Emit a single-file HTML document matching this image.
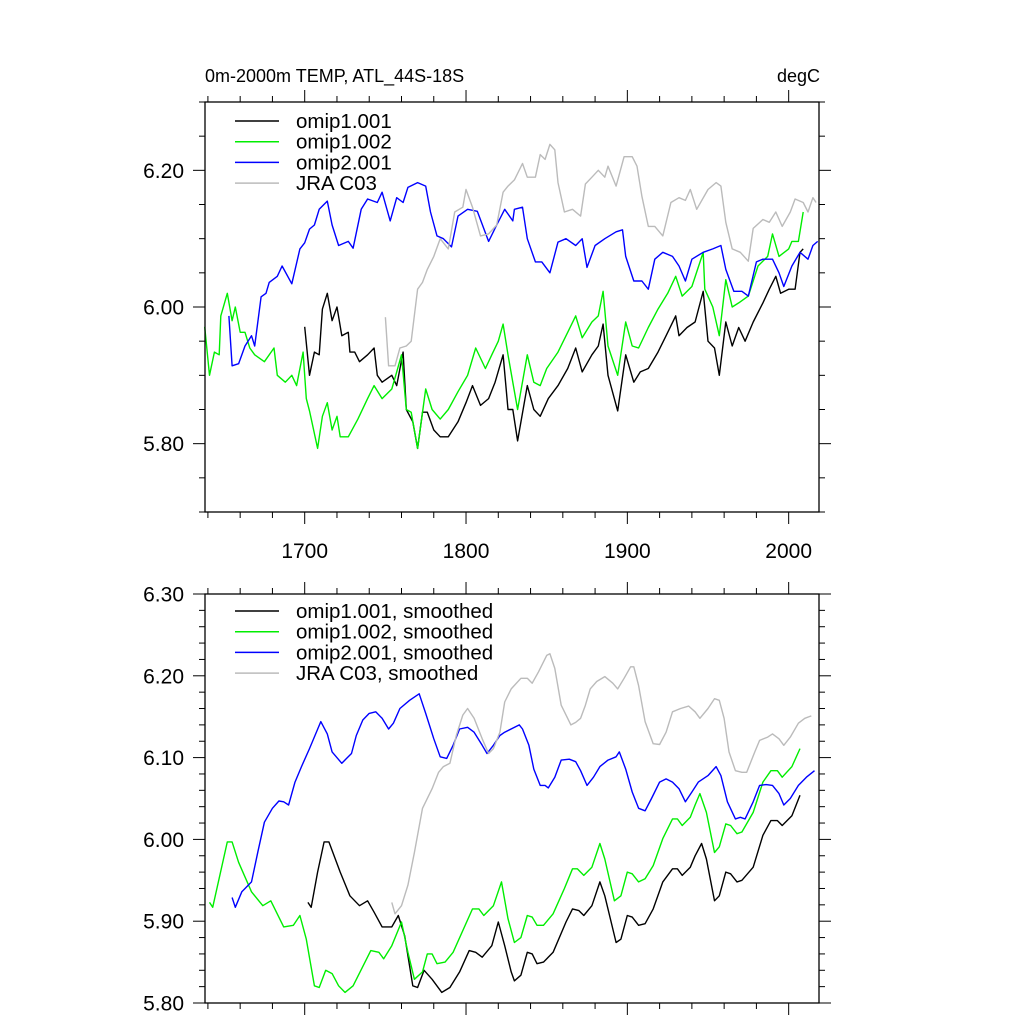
<!DOCTYPE html>
<html><head><meta charset="utf-8"><style>
html,body{margin:0;padding:0;background:#fff;}
svg text{font-family:"Liberation Sans",Arial,sans-serif;fill:#000;}
</style></head><body>
<svg id="chart" width="1024" height="1024" viewBox="0 0 1024 1024" xmlns="http://www.w3.org/2000/svg">
<rect width="1024" height="1024" fill="#fff"/>
<text x="205" y="82" font-size="18">0m-2000m TEMP, ATL_44S-18S</text>
<text x="820" y="82" font-size="18" text-anchor="end">degC</text>
<g id="top"></g>
<g id="bot"></g>
</svg>
<script>
// ---- top panel data (raw) ----
const blackYears=[1700,1703,1706,1709,1711,1714,1717,1720,1723,1727,1728,1731,1734,1739,1743,1745,1748,1754,1757,1761,1763,1767,1770,1773,1776,1780,1784,1789,1795,1800,1804,1809,1814,1818,1823,1826,1829,1832,1838,1842,1846,1851,1857,1863,1868,1872,1878,1882,1885,1888,1894,1899,1904,1908,1913,1919,1924,1930,1932,1937,1942,1947,1950,1954,1957,1961,1965,1969,1973,1978,1984,1988,1992,1995,2000,2004,2007,2009];
const blackVals=[5.971,5.90,5.934,5.93,5.997,6.02,5.98,6.0,5.958,5.963,5.934,5.934,5.92,5.93,5.94,5.90,5.89,5.90,5.885,5.934,5.85,5.832,5.793,5.846,5.846,5.82,5.81,5.81,5.832,5.86,5.885,5.856,5.866,5.89,5.93,5.85,5.85,5.804,5.885,5.85,5.84,5.866,5.885,5.91,5.94,5.905,5.93,5.943,5.975,5.90,5.848,5.93,5.89,5.905,5.91,5.934,5.958,5.987,5.958,5.97,5.978,6.023,5.95,5.94,5.90,5.978,5.943,5.97,5.95,5.978,6.006,6.026,6.045,6.02,6.026,6.026,6.08,6.085];
const greenYears=[1638,1641,1644,1647,1648,1652,1655,1657,1660,1663,1666,1669,1675,1681,1683,1688,1692,1695,1699,1701,1703,1708,1711,1714,1717,1720,1722,1727,1733,1739,1743,1748,1754,1757,1760,1763,1766,1770,1775,1779,1784,1789,1795,1801,1806,1812,1816,1820,1823,1826,1829,1832,1838,1842,1846,1850,1857,1863,1868,1872,1878,1882,1885,1888,1894,1899,1903,1907,1913,1919,1925,1930,1934,1940,1947,1948,1953,1957,1961,1965,1969,1975,1981,1987,1990,1994,2000,2002,2006,2009];
const greenVals=[5.971,5.90,5.934,5.93,5.987,6.02,5.98,6.0,5.963,5.963,5.94,5.93,5.92,5.94,5.90,5.89,5.90,5.885,5.934,5.866,5.848,5.793,5.84,5.86,5.82,5.84,5.81,5.81,5.836,5.866,5.885,5.866,5.88,5.905,5.93,5.85,5.846,5.793,5.88,5.85,5.836,5.85,5.876,5.90,5.94,5.91,5.93,5.95,5.975,5.93,5.89,5.85,5.93,5.89,5.885,5.91,5.934,5.963,5.987,5.955,5.978,5.987,6.023,5.943,5.90,5.978,5.943,5.94,5.97,5.997,6.02,6.045,6.016,6.03,6.08,6.026,6.0,5.958,6.04,6.0,6.006,6.016,6.06,6.074,6.107,6.074,6.085,6.096,6.096,6.139];
const blueYears=[1653,1655,1659,1663,1667,1669,1673,1676,1678,1683,1686,1692,1697,1700,1703,1706,1709,1714,1717,1721,1727,1730,1735,1739,1745,1748,1753,1757,1761,1764,1770,1775,1778,1782,1786,1791,1795,1801,1807,1814,1819,1824,1829,1830,1835,1838,1843,1847,1852,1857,1862,1868,1872,1875,1880,1886,1893,1897,1899,1904,1909,1913,1917,1922,1928,1932,1936,1940,1947,1953,1958,1961,1966,1971,1975,1980,1984,1990,1994,1997,2002,2007,2012,2015,2018];
const blueVals=[5.987,5.914,5.917,5.943,5.958,5.943,6.015,6.02,6.036,6.045,6.06,6.034,6.085,6.094,6.114,6.12,6.143,6.155,6.12,6.09,6.096,6.086,6.143,6.158,6.153,6.168,6.126,6.16,6.153,6.175,6.182,6.177,6.139,6.104,6.10,6.088,6.133,6.143,6.14,6.096,6.12,6.143,6.126,6.143,6.146,6.10,6.066,6.066,6.05,6.095,6.10,6.09,6.10,6.058,6.09,6.10,6.11,6.113,6.074,6.038,6.038,6.026,6.07,6.08,6.074,6.06,6.038,6.07,6.08,6.085,6.09,6.055,6.023,6.023,6.016,6.066,6.07,6.07,6.05,6.03,6.06,6.08,6.07,6.09,6.096];
const grayYears=[1750,1752,1756,1759,1763,1766,1770,1773,1776,1780,1784,1789,1793,1798,1800,1804,1809,1814,1819,1823,1826,1830,1835,1838,1843,1846,1849,1852,1855,1857,1861,1866,1871,1874,1878,1882,1886,1888,1893,1898,1903,1906,1909,1913,1917,1922,1927,1932,1936,1939,1943,1950,1955,1958,1961,1965,1970,1975,1978,1984,1988,1992,1996,2001,2004,2009,2012,2015,2017];
const grayVals=[5.985,5.914,5.914,5.94,5.943,5.95,6.026,6.036,6.055,6.074,6.10,6.085,6.139,6.146,6.172,6.146,6.104,6.107,6.12,6.168,6.177,6.186,6.21,6.19,6.19,6.223,6.216,6.238,6.23,6.182,6.139,6.143,6.133,6.18,6.19,6.20,6.19,6.206,6.177,6.22,6.22,6.206,6.162,6.118,6.118,6.104,6.153,6.16,6.156,6.172,6.143,6.172,6.182,6.177,6.124,6.085,6.08,6.067,6.115,6.128,6.124,6.139,6.118,6.139,6.158,6.153,6.139,6.16,6.153];
// ---- bottom panel data (smoothed) ----
const sBlackYears=[1702,1704,1708,1712,1715,1722,1728,1734,1739,1743,1748,1754,1758,1762,1767,1770,1774,1779,1785,1790,1796,1802,1806,1810,1816,1820,1824,1828,1830,1834,1838,1841,1844,1848,1854,1862,1866,1870,1873,1878,1883,1886,1893,1896,1900,1903,1907,1911,1916,1922,1928,1931,1934,1939,1942,1946,1949,1954,1957,1961,1964,1968,1971,1978,1984,1989,1993,1996,2002,2007];
const sBlackVals=[5.923,5.917,5.960,5.997,5.997,5.96,5.931,5.919,5.925,5.911,5.893,5.893,5.907,5.882,5.821,5.819,5.84,5.829,5.813,5.819,5.838,5.864,5.862,5.856,5.87,5.899,5.87,5.838,5.827,5.834,5.862,5.86,5.848,5.85,5.862,5.899,5.915,5.913,5.907,5.919,5.948,5.931,5.874,5.878,5.907,5.905,5.895,5.897,5.915,5.948,5.964,5.964,5.956,5.966,5.98,5.995,5.976,5.925,5.931,5.96,5.958,5.948,5.95,5.966,6.005,6.023,6.023,6.017,6.029,6.054];
const sGreenYears=[1641,1643,1652,1655,1659,1667,1674,1679,1687,1693,1697,1701,1706,1709,1713,1717,1721,1725,1730,1741,1746,1749,1754,1760,1764,1768,1773,1776,1779,1782,1787,1792,1804,1808,1811,1817,1822,1826,1830,1834,1838,1841,1844,1848,1854,1861,1866,1869,1873,1878,1883,1886,1892,1896,1900,1903,1907,1911,1916,1922,1928,1931,1934,1939,1942,1945,1949,1954,1957,1961,1964,1968,1971,1978,1984,1989,1993,1996,2002,2007];
const sGreenVals=[5.923,5.917,5.997,5.997,5.972,5.936,5.919,5.925,5.893,5.895,5.907,5.878,5.821,5.819,5.84,5.836,5.821,5.813,5.821,5.864,5.862,5.854,5.87,5.899,5.862,5.829,5.838,5.86,5.86,5.848,5.85,5.862,5.915,5.915,5.907,5.919,5.948,5.903,5.874,5.880,5.907,5.905,5.895,5.895,5.909,5.94,5.964,5.964,5.956,5.966,5.995,5.976,5.925,5.931,5.96,5.958,5.948,5.952,5.968,6.001,6.025,6.025,6.017,6.027,6.042,6.056,6.033,5.984,5.991,6.019,6.017,6.007,6.009,6.033,6.07,6.084,6.084,6.076,6.089,6.111];
const sBlueYears=[1655,1657,1661,1667,1671,1675,1680,1684,1687,1690,1694,1698,1703,1710,1714,1717,1723,1726,1729,1732,1736,1740,1744,1748,1752,1755,1759,1765,1771,1775,1780,1784,1788,1792,1796,1801,1805,1810,1813,1817,1821,1824,1833,1835,1839,1842,1846,1849,1851,1855,1859,1864,1868,1871,1875,1879,1883,1888,1893,1895,1899,1903,1907,1911,1915,1920,1924,1928,1932,1936,1940,1944,1950,1955,1958,1962,1967,1970,1973,1978,1982,1986,1990,1994,1997,2001,2006,2011,2016];
const sBlueVals=[5.929,5.917,5.936,5.948,5.985,6.021,6.038,6.047,6.046,6.042,6.07,6.089,6.111,6.144,6.129,6.107,6.093,6.099,6.105,6.127,6.146,6.154,6.156,6.148,6.135,6.142,6.16,6.17,6.178,6.154,6.123,6.101,6.099,6.115,6.135,6.137,6.131,6.115,6.105,6.115,6.127,6.131,6.14,6.135,6.115,6.086,6.066,6.066,6.063,6.076,6.097,6.098,6.095,6.084,6.066,6.076,6.089,6.097,6.101,6.107,6.086,6.058,6.038,6.035,6.05,6.07,6.074,6.07,6.062,6.046,6.058,6.07,6.078,6.089,6.078,6.046,6.025,6.027,6.025,6.046,6.066,6.067,6.066,6.056,6.042,6.05,6.066,6.076,6.084];
const sGrayYears=[1754,1756,1760,1764,1768,1773,1779,1783,1786,1790,1794,1798,1801,1805,1810,1814,1817,1821,1824,1828,1834,1838,1841,1845,1850,1852,1855,1859,1865,1868,1871,1874,1877,1881,1886,1891,1894,1898,1902,1904,1907,1911,1916,1920,1924,1928,1933,1938,1942,1945,1950,1954,1957,1960,1963,1967,1971,1974,1979,1982,1987,1990,1994,1997,2001,2006,2010,2014];
const sGrayVals=[5.923,5.909,5.919,5.944,5.984,6.038,6.062,6.082,6.089,6.093,6.127,6.152,6.16,6.148,6.123,6.105,6.111,6.131,6.168,6.184,6.197,6.197,6.191,6.205,6.225,6.227,6.209,6.164,6.14,6.143,6.148,6.164,6.184,6.193,6.199,6.191,6.184,6.197,6.211,6.211,6.188,6.144,6.117,6.116,6.131,6.156,6.16,6.163,6.156,6.148,6.16,6.172,6.17,6.148,6.107,6.084,6.082,6.082,6.107,6.121,6.125,6.129,6.123,6.115,6.125,6.142,6.148,6.151];
const xTickLabels=["1700","1800","1900","2000"];
const topYTickLabels=["5.80","6.00","6.20"];
const botYTickLabels=["5.80","5.90","6.00","6.10","6.20","6.30"];
const topLegend=["omip1.001","omip1.002","omip2.001","JRA C03"];
const botLegend=["omip1.001, smoothed","omip1.002, smoothed","omip2.001, smoothed","JRA C03, smoothed"];

const NS="http://www.w3.org/2000/svg";
const L=205,R=819;
const X0=1638.2,X1=2018.8;
function xs(yr){return L+(yr-X0)/(X1-X0)*(R-L);}
const colors=["#000000","#00ee00","#0000ff","#bbbbbb"];
function mk(tag,attrs,parent){const e=document.createElementNS(NS,tag);for(const k in attrs)e.setAttribute(k,attrs[k]);parent.appendChild(e);return e;}

function panel(g,top,bot,vmin,vmax,yMajor,yMinor,yLabels,series,legend,legTop){
  const ys=v=>bot-(v-vmin)/(vmax-vmin)*(bot-top);
  series.forEach((s,i)=>{
    let d="";
    s[0].forEach((yr,j)=>{d+=(j?"L":"M")+xs(yr).toFixed(1)+","+ys(s[1][j]).toFixed(1);});
    const p=mk("path",{d:d,fill:"none",stroke:colors[i],"stroke-width":"1.4","stroke-linejoin":"round"},g);
    
    
  });
  const f=mk("rect",{x:L,y:top,width:R-L,height:bot-top,fill:"none",stroke:"#000","stroke-width":"1.3"},g);
  
  
  for(let yr=1640;yr<=2018;yr+=20){
    const x=xs(yr),maj=(yr%100===0),len=maj?12:6;
    mk("line",{x1:x,x2:x,y1:bot,y2:bot+len,stroke:"#000","stroke-width":"1"},g);
    mk("line",{x1:x,x2:x,y1:top,y2:top-len,stroke:"#000","stroke-width":"1"},g);
  }
  const n=Math.round((vmax-vmin)/yMinor);
  for(let k=0;k<=n;k++){
    const v=vmin+k*yMinor,y=ys(v);
    const maj=Math.abs(Math.round(v/yMajor)*yMajor-v)<1e-6,len=maj?12:6;
    mk("line",{x1:L,x2:L-len,y1:y,y2:y,stroke:"#000","stroke-width":"1"},g);
    mk("line",{x1:R,x2:R+len,y1:y,y2:y,stroke:"#000","stroke-width":"1"},g);
  }
  yLabels.forEach(t=>{
    const e=mk("text",{x:184,y:ys(parseFloat(t))+7.5,"font-size":"21","text-anchor":"end"},g);
    e.textContent=t;
    
    
  });
  legend.forEach((t,i)=>{
    const y=legTop+i*20.7;
    const ln=mk("line",{x1:235,x2:279,y1:y,y2:y,stroke:colors[i],"stroke-width":"1.5"},g);
    
    
    const tx=mk("text",{x:296,y:y+7,"font-size":"20.5"},g);
    tx.textContent=t;
    
    
  });
  return ys;
}

const gt=document.getElementById("top"),gb=document.getElementById("bot");
panel(gt,102,512,5.70,6.30,0.2,0.05,topYTickLabels,
  [[blackYears,blackVals],[greenYears,greenVals],[blueYears,blueVals],[grayYears,grayVals]],topLegend,121);
xTickLabels.forEach(t=>{
  const e=mk("text",{x:xs(+t),y:558,"font-size":"21","text-anchor":"middle"},gt);
  e.textContent=t;
  
  
});
panel(gb,594,1003,5.80,6.30,0.1,0.02,botYTickLabels,
  [[sBlackYears,sBlackVals],[sGreenYears,sGreenVals],[sBlueYears,sBlueVals],[sGrayYears,sGrayVals]],botLegend,611);
</script>
</body></html>
